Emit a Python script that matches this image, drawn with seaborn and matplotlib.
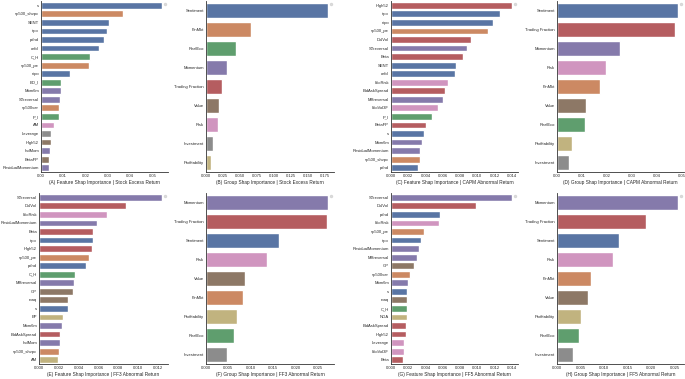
import seaborn as sns
import matplotlib.pyplot as plt
import warnings

warnings.filterwarnings("ignore")
sns.set_style("white")
plt.rcParams['font.family'] = ['Liberation Sans', 'DejaVu Sans']

deep = sns.color_palette("deep")
group_colors = {'Sentiment': deep[0], 'FinMkt': deep[1], 'RealEco': deep[2], 'Trading Fraction': deep[3],
                'Momentum': deep[4], 'Value': deep[5], 'Risk': deep[6], 'Investment': deep[7],
                'Profitability': deep[8]}

# (A) feature shap - stock excess return
a_names = ['s', 'sp500_shvpc', 'SENT', 'ripo', 'pdnd', 'cefd', 'C_H', 'sp500_pe', 'nipo', 'BD_I',
           'Mom6m', 'STreversal', 'sp500var', 'P_I', 'AM', 'Leverage', 'High52', 'IndMom', 'BetaFP',
           'ResidualMomentum']
a_vals = [0.0543, 0.0370, 0.0307, 0.0296, 0.0285, 0.0261, 0.0221, 0.0216, 0.0131, 0.0091,
          0.0088, 0.0085, 0.0081, 0.0079, 0.0058, 0.0045, 0.0043, 0.0039, 0.0037, 0.0036]
a_groups = ['Sentiment', 'FinMkt', 'Sentiment', 'Sentiment', 'Sentiment', 'Sentiment', 'RealEco', 'FinMkt',
            'Sentiment', 'RealEco', 'Momentum', 'Momentum', 'FinMkt', 'RealEco', 'Risk', 'Investment',
            'Value', 'Momentum', 'Value', 'Momentum']

# (B) group shap - stock excess return
b_names = ['Sentiment', 'FinMkt', 'RealEco', 'Momentum', 'Trading Fraction', 'Value', 'Risk',
           'Investment', 'Profitability']
b_vals = [0.179, 0.066, 0.0435, 0.0313, 0.024, 0.019, 0.018, 0.0108, 0.0078]

# (C) feature shap - CAPM abnormal return
c_names = ['High52', 'ripo', 'nipo', 'sp500_pe', 'DolVol', 'STreversal', 'Beta', 'SENT', 'cefd', 'IdioRisk',
           'BidAskSpread', 'MRreversal', 'IdioVol3F', 'P_I', 'BetaFP', 's', 'Mom6m', 'ResidualMomentum',
           'sp500_shvpc', 'pdnd']
c_vals = [0.0140, 0.0126, 0.0118, 0.0112, 0.0093, 0.0088, 0.0083, 0.0075, 0.0074, 0.0066,
          0.0063, 0.0060, 0.0054, 0.0048, 0.0040, 0.0038, 0.0036, 0.0034, 0.0033, 0.0031]
c_groups = ['Trading Fraction', 'Sentiment', 'Sentiment', 'FinMkt', 'Trading Fraction', 'Momentum',
            'Trading Fraction', 'Sentiment', 'Sentiment', 'Risk', 'Trading Fraction', 'Momentum', 'Risk',
            'RealEco', 'Trading Fraction', 'Sentiment', 'Momentum', 'Momentum', 'FinMkt', 'Sentiment']

# (D) group shap - CAPM abnormal return
d_names = ['Sentiment', 'Trading Fraction', 'Momentum', 'Risk', 'FinMkt', 'Value', 'RealEco',
           'Profitability', 'Investment']
d_vals = [0.0485, 0.0475, 0.0253, 0.0195, 0.0171, 0.0115, 0.0111, 0.0059, 0.0048]

# (E) feature shap - FF3 abnormal return
e_names = ['STreversal', 'DolVol', 'IdioRisk', 'ResidualMomentum', 'Beta', 'ripo', 'High52', 'sp500_pe',
           'pdnd', 'C_H', 'MRreversal', 'GP', 'roaq', 's', 'EP', 'Mom6m', 'BidAskSpread', 'IndMom',
           'sp500_shvpc', 'AM']
e_vals = [0.0124, 0.0088, 0.0069, 0.0059, 0.0055, 0.0055, 0.0053, 0.0050, 0.0047, 0.0036,
          0.0035, 0.0034, 0.0029, 0.0029, 0.0024, 0.0023, 0.0021, 0.0021, 0.0020, 0.0019]
e_groups = ['Momentum', 'Trading Fraction', 'Risk', 'Momentum', 'Trading Fraction', 'Sentiment',
            'Trading Fraction', 'FinMkt', 'Sentiment', 'RealEco', 'Momentum', 'Value', 'Value', 'Sentiment',
            'Profitability', 'Momentum', 'Trading Fraction', 'Momentum', 'FinMkt', 'Profitability']

# (F) group shap - FF3 abnormal return
f_names = ['Momentum', 'Trading Fraction', 'Sentiment', 'Risk', 'Value', 'FinMkt', 'Profitability',
           'RealEco', 'Investment']
f_vals = [0.0272, 0.0269, 0.0162, 0.0136, 0.0088, 0.0082, 0.0069, 0.0062, 0.0047]

# (G) feature shap - FF5 abnormal return
g_names = ['STreversal', 'DolVol', 'pdnd', 'IdioRisk', 'sp500_pe', 'ripo', 'ResidualMomentum', 'MRreversal',
           'GP', 'sp500var', 'Mom6m', 's', 'roaq', 'C_H', 'NOA', 'BidAskSpread', 'High52', 'Leverage',
           'IdioVol3F', 'Beta']
g_vals = [0.0140, 0.0098, 0.0057, 0.0055, 0.0038, 0.0035, 0.0032, 0.0030, 0.0027, 0.0022,
          0.0020, 0.0019, 0.0019, 0.0018, 0.0018, 0.0017, 0.0017, 0.0015, 0.0015, 0.0014]
g_groups = ['Momentum', 'Trading Fraction', 'Sentiment', 'Risk', 'FinMkt', 'Sentiment', 'Momentum',
            'Momentum', 'Value', 'FinMkt', 'Momentum', 'Sentiment', 'Value', 'RealEco', 'Profitability',
            'Trading Fraction', 'Trading Fraction', 'Risk', 'Risk', 'Trading Fraction']

# (H) group shap - FF5 abnormal return
h_names = ['Momentum', 'Trading Fraction', 'Sentiment', 'Risk', 'FinMkt', 'Value', 'Profitability',
           'RealEco', 'Investment']
h_vals = [0.0257, 0.0190, 0.0131, 0.0119, 0.0072, 0.0066, 0.0052, 0.0047, 0.0035]

panels = [
    (a_names, a_vals, a_groups, '(A) Feature Shap Importance | Stock Excess Return'),
    (b_names, b_vals, b_names, '(B) Group Shap Importance | Stock Excess Return'),
    (c_names, c_vals, c_groups, '(C) Feature Shap Importance | CAPM Abnormal Return'),
    (d_names, d_vals, d_names, '(D) Group Shap Importance | CAPM Abnormal Return'),
    (e_names, e_vals, e_groups, '(E) Feature Shap Importance | FF3 Abnormal Return'),
    (f_names, f_vals, f_names, '(F) Group Shap Importance | FF3 Abnormal Return'),
    (g_names, g_vals, g_groups, '(G) Feature Shap Importance | FF5 Abnormal Return'),
    (h_names, h_vals, h_names, '(H) Group Shap Importance | FF5 Abnormal Return'),
]

W, H = 685, 379
# axes boxes in pixels: left, top, width, height
boxes = [(41, 1, 127, 171), (206, 1, 128, 171), (391, 1, 127, 171), (557, 1, 127, 171),
         (39, 193, 129, 171), (206, 193, 128, 171), (391, 193, 127, 171), (557, 193, 127, 171)]

fig = plt.figure(figsize=(W / 100, H / 100), dpi=100)
for (names, vals, groups, label), (l, t, w, h) in zip(panels, boxes):
    ax = fig.add_axes([l / W, 1 - (t + h) / H, w / W, h / H])
    colors = [group_colors[g] for g in groups]
    sns.barplot(x=vals, y=names, hue=names, palette=colors, legend=False, ax=ax)
    ax.set_xlabel(label, fontsize=3.4, labelpad=1.5)
    ax.set_ylabel('')
    ax.tick_params(axis='both', labelsize=3.0, pad=1.5, length=0)
    for s in ax.spines.values():
        s.set_linewidth(0.6)
        s.set_color('#333333')
    sns.despine(ax=ax)
    leg = ax.legend(loc='upper right', frameon=True, borderpad=0.2, fontsize=3)

plt.savefig('out.png', dpi=100)
